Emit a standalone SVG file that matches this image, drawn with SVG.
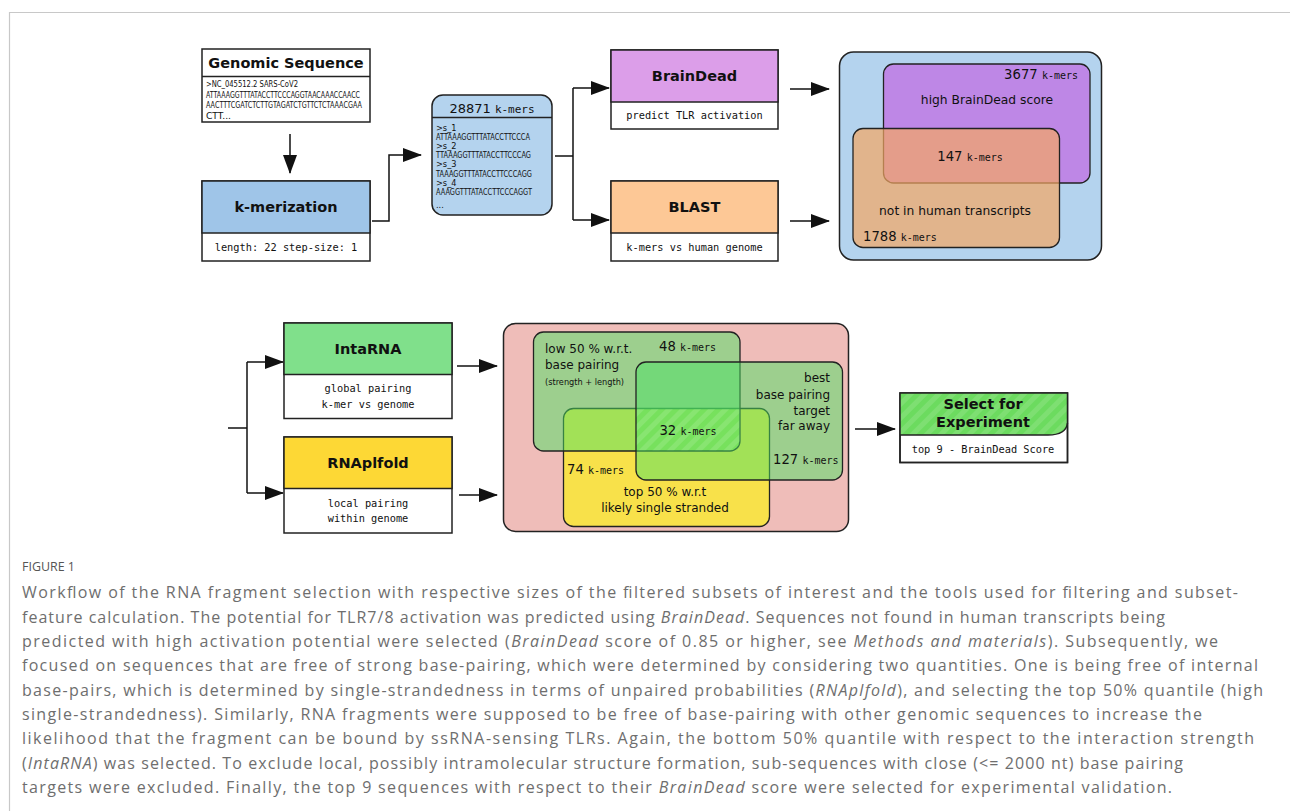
<svg xmlns="http://www.w3.org/2000/svg" width="1290" height="811" viewBox="0 0 1290 811">
<style>
.box{stroke:#222;stroke-width:1.5}
.lbl{font-family:"DejaVu Sans",sans-serif;font-weight:bold;font-size:14.5px;fill:#111;text-anchor:middle}
.sub{font-family:"DejaVu Sans Mono",monospace;font-size:10.3px;fill:#111;text-anchor:middle}
.seq{font-family:"DejaVu Sans",sans-serif;font-size:8.2px;fill:#111}
.vt{font-family:"DejaVu Sans",sans-serif;font-size:12.3px;fill:#111}
.v2{font-family:"DejaVu Sans",sans-serif;font-size:12px;fill:#111}
.sm{font-family:"DejaVu Sans",sans-serif;font-size:8.2px;fill:#111}
.num{font-family:"DejaVu Sans",sans-serif;font-size:13.2px;fill:#111}
.km{font-family:"DejaVu Sans Mono",monospace;font-size:10px}
.con{fill:none;stroke:#111;stroke-width:1.5}
.cap{font-family:"Open Sans",sans-serif;font-size:16px;fill:#6e6e6e}
.vr{stroke:#222;stroke-width:1.3}
</style>
<defs>
<marker id="arr" markerUnits="userSpaceOnUse" markerWidth="19" markerHeight="14" refX="18" refY="7" orient="auto">
<path d="M0,0 L19,7 L0,14 z" fill="#111"/>
</marker>
<pattern id="hatch" patternUnits="userSpaceOnUse" width="10" height="10" patternTransform="rotate(45)">
<rect x="0" y="0" width="5" height="10" fill="#fff" fill-opacity="0.12"/>
</pattern>
</defs>
<rect x="0" y="0" width="1290" height="811" fill="#fff"/>
<path d="M9.5,811 V12.5 H1290" fill="none" stroke="#c8c8c8" stroke-width="1.2"/>

<g id="connectors">
<path class="con" d="M290,134 V173" marker-end="url(#arr)"/>
<path class="con" d="M372,221 H389 V155 H421" marker-end="url(#arr)"/>
<path class="con" d="M555,156 H573"/>
<path class="con" d="M573,88 V220"/>
<path class="con" d="M573,88 H609" marker-end="url(#arr)"/>
<path class="con" d="M573,220 H609" marker-end="url(#arr)"/>
<path class="con" d="M790,89 H829" marker-end="url(#arr)"/>
<path class="con" d="M790,221 H829" marker-end="url(#arr)"/>
<path class="con" d="M228,428 H247"/>
<path class="con" d="M247,362 V493"/>
<path class="con" d="M247,362 H283" marker-end="url(#arr)"/>
<path class="con" d="M247,493 H283" marker-end="url(#arr)"/>
<path class="con" d="M457,366 H497" marker-end="url(#arr)"/>
<path class="con" d="M459,495 H497" marker-end="url(#arr)"/>
<path class="con" d="M855,429 H895" marker-end="url(#arr)"/>
</g>

<g id="genomic">
<rect class="box" x="202" y="49" width="168" height="73" fill="#fff"/>
<line class="box" x1="202" y1="76.5" x2="370" y2="76.5"/>
<text class="lbl" x="286" y="68">Genomic Sequence</text>
<text class="seq" x="206" y="87" textLength="92" lengthAdjust="spacingAndGlyphs">&gt;NC_045512.2 SARS-CoV2</text>
<text class="seq" x="206" y="97.5" textLength="154" lengthAdjust="spacingAndGlyphs">ATTAAAGGTTTATACCTTCCCAGGTAACAAACCAACC</text>
<text class="seq" x="206" y="108" textLength="156" lengthAdjust="spacingAndGlyphs">AACTTTCGATCTCTTGTAGATCTGTTCTCTAAACGAA</text>
<text class="seq" x="206" y="118.5" textLength="25" lengthAdjust="spacingAndGlyphs">CTT...</text>
</g>

<g id="kmerization">
<rect class="box" x="202" y="181" width="168" height="80" fill="#fff"/>
<rect class="box" x="202" y="181" width="168" height="52" fill="#9fc5e8"/>
<text class="lbl" x="286" y="212">k-merization</text>
<text class="sub" x="286" y="251">length: 22 step-size: 1</text>
</g>

<g id="kmers">
<rect class="box" x="432" y="95" width="120" height="120" rx="11" fill="#b4d3ee"/>
<line class="box" x1="432" y1="117.5" x2="552" y2="117.5"/>
<text x="492" y="112.5" text-anchor="middle" style="font-family:'DejaVu Sans',sans-serif;font-size:13px;fill:#111">28871 <tspan style="font-family:'DejaVu Sans Mono',monospace;font-size:11px">k-mers</tspan></text>
<text class="seq" x="436" y="130.5">&gt;s_1</text>
<text class="seq" x="436" y="139.7" textLength="94" lengthAdjust="spacingAndGlyphs">ATTAAAGGTTTATACCTTCCCA</text>
<text class="seq" x="436" y="148.9">&gt;s_2</text>
<text class="seq" x="436" y="158.1" textLength="95" lengthAdjust="spacingAndGlyphs">TTAAAGGTTTATACCTTCCCAG</text>
<text class="seq" x="436" y="167.3">&gt;s_3</text>
<text class="seq" x="436" y="176.5" textLength="96" lengthAdjust="spacingAndGlyphs">TAAAGGTTTATACCTTCCCAGG</text>
<text class="seq" x="436" y="185.7">&gt;s_4</text>
<text class="seq" x="436" y="194.9" textLength="96" lengthAdjust="spacingAndGlyphs">AAAGGTTTATACCTTCCCAGGT</text>
<text class="seq" x="436" y="208">...</text>
</g>

<g id="braindead">
<rect class="box" x="611" y="50" width="167" height="79" fill="#fff"/>
<rect class="box" x="611" y="50" width="167" height="52" fill="#dc9ee9"/>
<text class="lbl" x="694.5" y="81">BrainDead</text>
<text class="sub" x="694.5" y="119">predict TLR activation</text>
</g>

<g id="blast">
<rect class="box" x="611" y="181" width="167" height="80" fill="#fff"/>
<rect class="box" x="611" y="181" width="167" height="52" fill="#fdc896"/>
<text class="lbl" x="694.5" y="212">BLAST</text>
<text class="sub" x="694.5" y="251">k-mers vs human genome</text>
</g>

<g id="venn1">
<rect class="box" x="839.5" y="52" width="262" height="208" rx="14" fill="#b4d3ee"/>
<rect class="vr" x="883.5" y="64" width="206.5" height="119" rx="10" fill="#be87e6"/>
<rect class="vr" x="853" y="128.5" width="206.5" height="119" rx="10" fill="#f4a762" fill-opacity="0.7"/>
<text class="num" x="1078" y="79" text-anchor="end">3677 <tspan class="km">k-mers</tspan></text>
<text class="vt" x="987" y="104" text-anchor="middle">high BrainDead score</text>
<text class="num" x="970" y="161" text-anchor="middle">147 <tspan class="km">k-mers</tspan></text>
<text class="vt" x="955" y="215" text-anchor="middle">not in human transcripts</text>
<text class="num" x="863" y="241">1788 <tspan class="km">k-mers</tspan></text>
</g>

<g id="intarna">
<rect class="box" x="284" y="323" width="168" height="95.5" fill="#fff"/>
<rect class="box" x="284" y="323" width="168" height="51.5" fill="#80e08b"/>
<text class="lbl" x="368" y="354">IntaRNA</text>
<text class="sub" x="368" y="392">global pairing</text>
<text class="sub" x="368" y="407.5">k-mer vs genome</text>
</g>

<g id="rnaplfold">
<rect class="box" x="284" y="437" width="168" height="96" fill="#fff"/>
<rect class="box" x="284" y="437" width="168" height="51.5" fill="#fdd835"/>
<text class="lbl" x="368" y="468">RNAplfold</text>
<text class="sub" x="368" y="506.5">local pairing</text>
<text class="sub" x="368" y="522">within genome</text>
</g>

<g id="venn2">
<rect class="box" x="503.5" y="323.5" width="345" height="208" rx="12" fill="#efbdb9"/>
<rect class="vr" x="563.5" y="408.5" width="206" height="118" rx="10" fill="#f8e14a"/>
<rect class="vr" x="533.5" y="332" width="206.5" height="119" rx="10" fill="#4be164" fill-opacity="0.5"/>
<rect class="vr" x="636" y="362" width="206.5" height="118" rx="10" fill="#4be164" fill-opacity="0.5"/>
<rect x="636.7" y="409.2" width="102.6" height="41.1" fill="url(#hatch)"/>
<text class="v2" x="545" y="352.5">low 50 % w.r.t.</text>
<text class="v2" x="545" y="369">base pairing</text>
<text class="sm" x="545" y="384.5">(strength + length)</text>
<text class="num" x="659" y="351">48 <tspan class="km">k-mers</tspan></text>
<text class="v2" x="830" y="382" text-anchor="end">best</text>
<text class="v2" x="830" y="398.5" text-anchor="end">base pairing</text>
<text class="v2" x="830" y="414.5" text-anchor="end">target</text>
<text class="v2" x="830" y="430" text-anchor="end">far away</text>
<text class="num" x="688" y="435" text-anchor="middle">32 <tspan class="km">k-mers</tspan></text>
<text class="num" x="567" y="474">74 <tspan class="km">k-mers</tspan></text>
<text class="num" x="838.5" y="464" text-anchor="end">127 <tspan class="km">k-mers</tspan></text>
<text class="v2" x="665" y="495.5" text-anchor="middle">top 50 % w.r.t</text>
<text class="v2" x="665" y="511.5" text-anchor="middle">likely single stranded</text>
</g>

<g id="select">
<rect class="box" x="900" y="393" width="167.5" height="69.5" fill="#fff"/>
<path d="M900,393 H1067.5 V423 Q1066,435 1048,435 H900 Z" fill="#6cdb5f"/>
<path d="M900,393 H1067.5 V423 Q1066,435 1048,435 H900 Z" fill="url(#hatch)"/>
<path class="box" d="M900,435 H1048 Q1066,435 1067.5,423" fill="none"/>
<rect class="box" x="900" y="393" width="167.5" height="69.5" fill="none"/>
<text class="lbl" x="983" y="408.5">Select for</text>
<text class="lbl" x="983" y="427">Experiment</text>
<text class="sub" x="983" y="453">top 9 - BrainDead Score</text>
</g>

<g id="caption">
<text x="22" y="571" style="font-family:'Open Sans',sans-serif;font-size:12px;fill:#555" textLength="53" lengthAdjust="spacingAndGlyphs">FIGURE 1</text>
<text class="cap" x="22" y="598" textLength="1216" lengthAdjust="spacing">Workflow of the RNA fragment selection with respective sizes of the filtered subsets of interest and the tools used for filtering and subset-</text>
<text class="cap" x="22" y="622.5" textLength="1143" lengthAdjust="spacing">feature calculation. The potential for TLR7/8 activation was predicted using <tspan font-style="italic">BrainDead</tspan>. Sequences not found in human transcripts being</text>
<text class="cap" x="22" y="647" textLength="1196" lengthAdjust="spacing">predicted with high activation potential were selected (<tspan font-style="italic">BrainDead</tspan> score of 0.85 or higher, see <tspan font-style="italic">Methods and materials</tspan>). Subsequently, we</text>
<text class="cap" x="22" y="671.3" textLength="1236" lengthAdjust="spacing">focused on sequences that are free of strong base-pairing, which were determined by considering two quantities. One is being free of internal</text>
<text class="cap" x="22" y="695.6" textLength="1241" lengthAdjust="spacing">base-pairs, which is determined by single-strandedness in terms of unpaired probabilities (<tspan font-style="italic">RNAplfold</tspan>), and selecting the top 50% quantile (high</text>
<text class="cap" x="22" y="720" textLength="1180" lengthAdjust="spacing">single-strandedness). Similarly, RNA fragments were supposed to be free of base-pairing with other genomic sequences to increase the</text>
<text class="cap" x="22" y="744.3" textLength="1232" lengthAdjust="spacing">likelihood that the fragment can be bound by ssRNA-sensing TLRs. Again, the bottom 50% quantile with respect to the interaction strength</text>
<text class="cap" x="22" y="768.6" textLength="1161" lengthAdjust="spacing">(<tspan font-style="italic">IntaRNA</tspan>) was selected. To exclude local, possibly intramolecular structure formation, sub-sequences with close (&lt;= 2000 nt) base pairing</text>
<text class="cap" x="22" y="793" textLength="1150" lengthAdjust="spacing">targets were excluded. Finally, the top 9 sequences with respect to their <tspan font-style="italic">BrainDead</tspan> score were selected for experimental validation.</text>
</g>
</svg>
